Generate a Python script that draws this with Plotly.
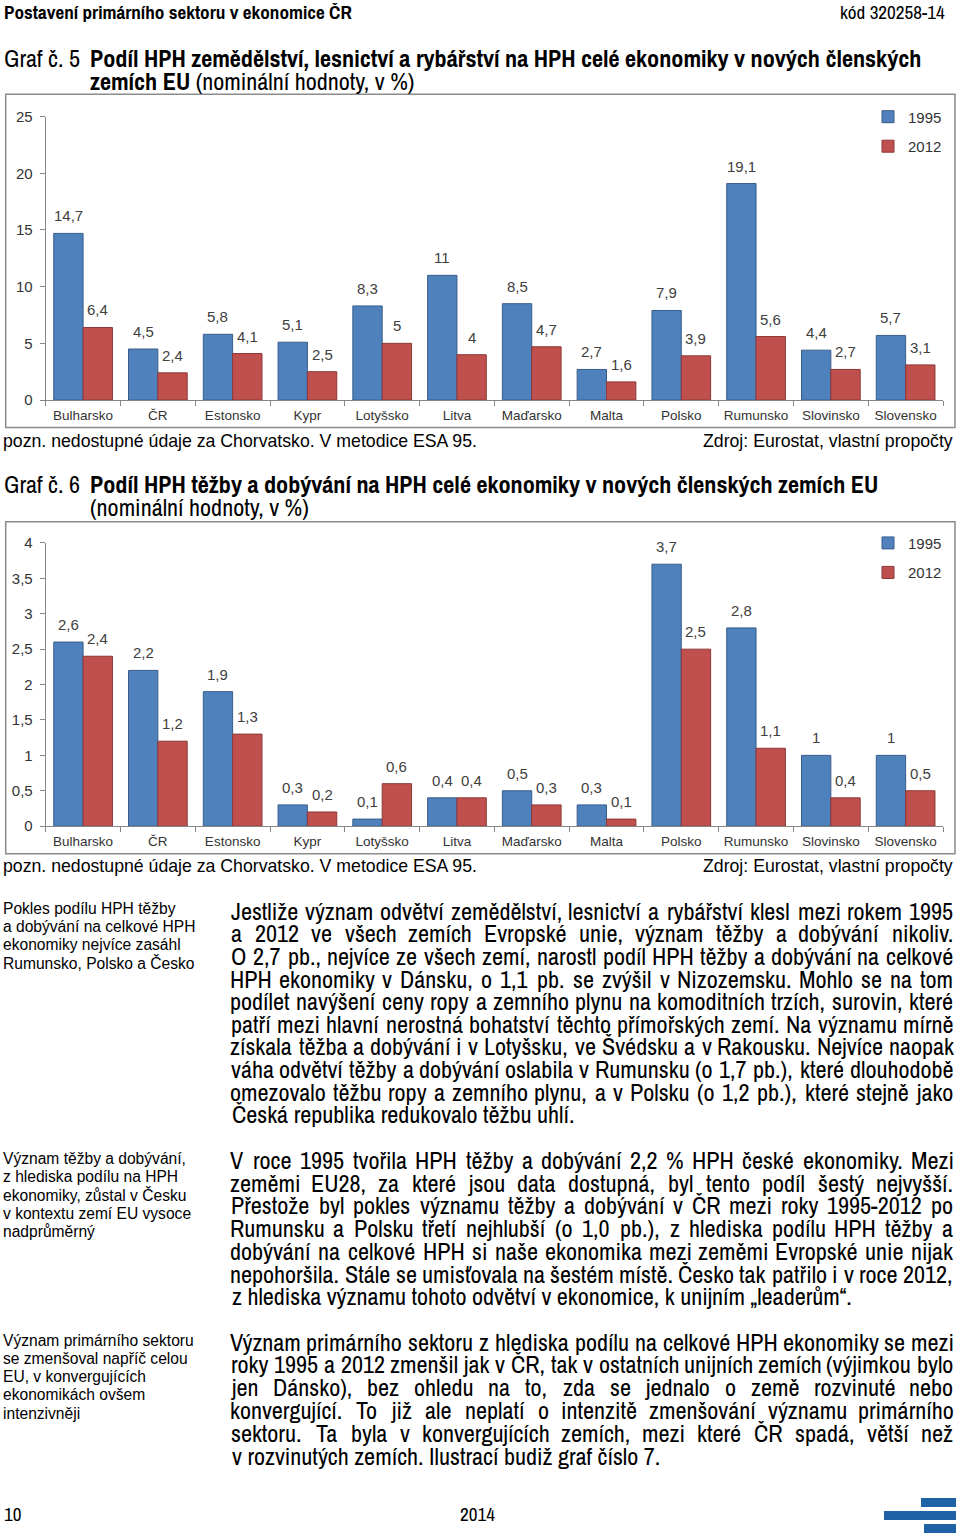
import unicodedata
import subprocess
import plotly.graph_objects as go

W, H = 960, 1540

# ---------------- data ----------------
countries = ["Bulharsko", "ČR", "Estonsko", "Kypr", "Lotyšsko", "Litva",
             "Maďarsko", "Malta", "Polsko", "Rumunsko", "Slovinsko", "Slovensko"]
years = ["1995", "2012"]
agri_1995 = [14.7, 4.5, 5.8, 5.1, 8.3, 11, 8.5, 2.7, 7.9, 19.1, 4.4, 5.7]
agri_2012 = [6.4, 2.4, 4.1, 2.5, 5, 4, 4.7, 1.6, 3.9, 5.6, 2.7, 3.1]
mining_1995 = [2.6, 2.2, 1.9, 0.3, 0.1, 0.4, 0.5, 0.3, 3.7, 2.8, 1, 1]
mining_2012 = [2.4, 1.2, 1.3, 0.2, 0.6, 0.4, 0.3, 0.1, 2.5, 1.1, 0.4, 0.5]
agri_ticks = [0, 5, 10, 15, 20, 25]
mining_ticks = [0, 0.5, 1, 1.5, 2, 2.5, 3, 3.5, 4]

# ---------------- fonts ----------------
try:
    fams = subprocess.run(["fc-list", ":", "family"], capture_output=True, text=True).stdout
except Exception:
    fams = ""

ARIAL = "Liberation Sans, Arial, sans-serif"
if "Liberation Sans Narrow" in fams:
    NARROW, KA, KB = "Liberation Sans Narrow", 0.82, 0.0
elif "Archivo Narrow" in fams:
    NARROW, KA, KB = "Archivo Narrow", 0.745, 0.034
else:
    NARROW, KA, KB = ARIAL, 1.0, 0.0
# sizes expressed as the Arial size that gives the reference width
BODY = 19.7 / 0.815 if KA != 1.0 else 19.7
HEAD = 15.6 / 0.815 if KA != 1.0 else 15.6

BLUE, BLUE_EDGE = "#4F81BD", "#385D8A"
RED, RED_EDGE = "#C0504D", "#8C3836"
AXIS = "#868686"
TXT = "#333333"

Y_OFF, H_EFF = 8.0, 1524.0


def px(x):
    return x / W


def py(y):
    return 1 - (y - Y_OFF) / H_EFF


fig = go.Figure()

# ---------------- bar charts ----------------
X0, X1 = 45.7, 943.0
charts = [
    dict(xa="x", ya="y", leg="legend", v1=agri_1995, v2=agri_2012),
    dict(xa="x2", ya="y2", leg="legend2", v1=mining_1995, v2=mining_2012),
]
for c in charts:
    for yr, vals, col, edge in [(years[0], c["v1"], BLUE, BLUE_EDGE), (years[1], c["v2"], RED, RED_EDGE)]:
        fig.add_trace(go.Bar(
            x=countries, y=vals, name=yr, xaxis=c["xa"], yaxis=c["ya"],
            legend=c["leg"], legendgroup=c["leg"] + yr,
            marker=dict(color=col, line=dict(color=edge, width=1)),
            hoverinfo="skip",
        ))

BARGAP = 0.215
cat_px = (X1 - X0) / len(countries)
off = (1 - BARGAP) / 4 * cat_px


def fmt(v):
    return f"{v:g}".replace(".", ",")


for c in charts:
    for vals, sh in [(c["v1"], -off), (c["v2"], off)]:
        for cat, v in zip(countries, vals):
            fig.add_annotation(
                x=cat, y=v, xref=c["xa"], yref=c["ya"], xshift=sh, yshift=7,
                yanchor="bottom", showarrow=False, text=fmt(v),
                font=dict(family=ARIAL, size=15, color="#404040"),
            )

axis_common = dict(showline=True, linecolor=AXIS, linewidth=1, ticks="outside", ticklen=5,
                   tickcolor=AXIS, tickwidth=1, showgrid=False, zeroline=False)
xfont = dict(family=ARIAL, size=13.5, color=TXT)
yfont = dict(family=ARIAL, size=15, color=TXT)

fig.update_layout(
    width=W, height=H, margin=dict(l=0, r=0, t=0, b=0),
    paper_bgcolor="white", plot_bgcolor="white",
    barmode="group", bargap=BARGAP, bargroupgap=0,
    separators=", ",
    showlegend=True,
    xaxis=dict(domain=[px(X0), px(X1)], anchor="y", type="category", tickson="boundaries",
               tickfont=xfont, ticklabelstandoff=3, **axis_common),
    yaxis=dict(domain=[py(399.3), py(115.7)], anchor="x", range=[0, 25], tickvals=agri_ticks,
               tickfont=yfont, ticklabelstandoff=4, **axis_common),
    xaxis2=dict(domain=[px(X0), px(X1)], anchor="y2", type="category", tickson="boundaries",
                tickfont=xfont, ticklabelstandoff=3, **axis_common),
    yaxis2=dict(domain=[py(825.7), py(542.3)], anchor="x2", range=[0, 4], tickvals=mining_ticks,
                tickfont=yfont, ticklabelstandoff=4, **axis_common),
    legend=dict(x=px(868), y=py(99.5), xanchor="left", yanchor="top", bgcolor="rgba(0,0,0,0)",
                font=dict(family=ARIAL, size=15, color=TXT), tracegroupgap=7),
    legend2=dict(x=px(868), y=py(526), xanchor="left", yanchor="top", bgcolor="rgba(0,0,0,0)",
                 font=dict(family=ARIAL, size=15, color=TXT), tracegroupgap=7),
)

# chart frames
for top, bot in [(93.3, 426.7), (521, 853.3)]:
    fig.add_shape(type="rect", xref="paper", yref="paper", x0=px(5.7), x1=px(955),
                  y0=py(bot), y1=py(top), line=dict(color="#8c8c8c", width=1.5))

# logo
for x0, y0, y1 in [(921, 1498, 1507), (884, 1511, 1520), (924, 1524, 1533)]:
    fig.add_shape(type="rect", xref="paper", yref="paper", x0=px(x0), x1=px(956),
                  y0=py(y1), y1=py(y0), line=dict(width=0), fillcolor="#1f62a6")


# ---------------- text ----------------
def text(x, y, s, size, family, anchor="left", color="black"):
    fig.add_annotation(x=px(x), y=py(y), xref="paper", yref="paper", text=s, showarrow=False,
                       xanchor=anchor, yanchor="middle", align=anchor,
                       font=dict(size=size, family=family, color=color))


HELV = {" ": 278, "!": 278, '"': 355, "#": 556, "$": 556, "%": 889, "&": 667, "'": 191,
        "(": 333, ")": 333, "*": 389, "+": 584, ",": 278, "-": 333, ".": 278, "/": 278,
        ":": 278, ";": 278, "?": 556, "„": 333, "“": 333, "”": 333, "–": 556,
        "A": 667, "B": 667, "C": 722, "D": 722, "E": 667, "F": 611, "G": 778, "H": 722, "I": 278,
        "J": 500, "K": 667, "L": 556, "M": 833, "N": 722, "O": 778, "P": 667, "Q": 778, "R": 722,
        "S": 667, "T": 611, "U": 722, "V": 667, "W": 944, "X": 667, "Y": 667, "Z": 611,
        "a": 556, "b": 556, "c": 500, "d": 556, "e": 556, "f": 278, "g": 556, "h": 556, "i": 222,
        "j": 222, "k": 500, "l": 222, "m": 833, "n": 556, "o": 556, "p": 556, "q": 556, "r": 333,
        "s": 500, "t": 278, "u": 556, "v": 500, "w": 722, "x": 500, "y": 500, "z": 500}
for d in "0123456789":
    HELV[d] = 556


def em_width(s):
    tot = 0.0
    for ch in s:
        w = HELV.get(ch)
        if w is None:
            w = HELV.get(unicodedata.normalize("NFD", ch)[0], 556)
        tot += KA * w / 1000.0 + KB
    return tot


BX0, BX1 = 231.0, 953.0


def justified(lines, y0, step):
    for i, line in enumerate(lines):
        y = y0 + i * step
        if i == len(lines) - 1:
            text(BX0 - 1.5, y, line, BODY, NARROW)
            continue
        words = line.split(" ")
        ws = [em_width(w) * BODY for w in words]
        gap = (BX1 - BX0 - sum(ws)) / (len(words) - 1)
        x = BX0
        for w, wd in zip(words, ws):
            text(x + wd / 2, y, w, BODY, NARROW, anchor="center")
            x += wd + gap


# header
text(2, 11, "<b>Postavení primárního sektoru v ekonomice ČR</b>", HEAD, NARROW)
text(947, 11, "kód 320258-14", HEAD, NARROW, anchor="right")

# chart titles
text(2, 58, "Graf č. 5", BODY, NARROW)
text(88, 58, "<b>Podíl HPH zemědělství, lesnictví a rybářství na HPH celé ekonomiky v nových členských</b>", BODY, NARROW)
text(88, 81, "<b>zemích EU</b> (nominální hodnoty, v %)", BODY, NARROW)
text(2, 484, "Graf č. 6", BODY, NARROW)
text(88, 484, "<b>Podíl HPH těžby a dobývání na HPH celé ekonomiky v nových členských zemích EU</b>", BODY, NARROW)
text(88, 507, "(nominální hodnoty, v %)", BODY, NARROW)

# chart notes
for yy in (440, 866):
    text(1, yy, "pozn. nedostupné údaje za Chorvatsko. V metodice ESA 95.", 17.7, ARIAL)
    text(955, yy, "Zdroj: Eurostat, vlastní propočty", 17.7, ARIAL, anchor="right")

# side notes
side = [
    (908, ["Pokles podílu HPH těžby", "a dobývání na celkové HPH", "ekonomiky nejvíce zasáhl",
           "Rumunsko, Polsko a Česko"]),
    (1158, ["Význam těžby a dobývání,", "z hlediska podílu na HPH", "ekonomiky, zůstal v Česku",
            "v kontextu zemí EU vysoce", "nadprůměrný"]),
    (1340, ["Význam primárního sektoru", "se zmenšoval napříč celou", "EU, v konvergujících",
            "ekonomikách ovšem", "intenzivněji"]),
]
for y0, lines in side:
    for i, l in enumerate(lines):
        text(1, y0 + i * 18.3, l, 15.6, ARIAL)

# body paragraphs
para1 = [
    "Jestliže význam odvětví zemědělství, lesnictví a rybářství klesl mezi rokem 1995",
    "a 2012 ve všech zemích Evropské unie, význam těžby a dobývání nikoliv.",
    "O 2,7 pb., nejvíce ze všech zemí, narostl podíl HPH těžby a dobývání na celkové",
    "HPH ekonomiky v Dánsku, o 1,1 pb. se zvýšil v Nizozemsku. Mohlo se na tom",
    "podílet navýšení ceny ropy a zemního plynu na komoditních trzích, surovin, které",
    "patří mezi hlavní nerostná bohatství těchto přímořských zemí. Na významu mírně",
    "získala těžba a dobývání i v Lotyšsku, ve Švédsku a v Rakousku. Nejvíce naopak",
    "váha odvětví těžby a dobývání oslabila v Rumunsku (o 1,7 pb.), které dlouhodobě",
    "omezovalo těžbu ropy a zemního plynu, a v Polsku (o 1,2 pb.), které stejně jako",
    "Česká republika redukovalo těžbu uhlí.",
]
para2 = [
    "V roce 1995 tvořila HPH těžby a dobývání 2,2 % HPH české ekonomiky. Mezi",
    "zeměmi EU28, za které jsou data dostupná, byl tento podíl šestý nejvyšší.",
    "Přestože byl pokles významu těžby a dobývání v ČR mezi roky 1995-2012 po",
    "Rumunsku a Polsku třetí nejhlubší (o 1,0 pb.), z hlediska podílu HPH těžby a",
    "dobývání na celkové HPH si naše ekonomika mezi zeměmi Evropské unie nijak",
    "nepohoršila. Stále se umisťovala na šestém místě. Česko tak patřilo i v roce 2012,",
    "z hlediska významu tohoto odvětví v ekonomice, k unijním „leaderům“.",
]
para3 = [
    "Význam primárního sektoru z hlediska podílu na celkové HPH ekonomiky se mezi",
    "roky 1995 a 2012 zmenšil jak v ČR, tak v ostatních unijních zemích (výjimkou bylo",
    "jen Dánsko), bez ohledu na to, zda se jednalo o země rozvinuté nebo",
    "konvergující. To již ale neplatí o intenzitě zmenšování významu primárního",
    "sektoru. Ta byla v konvergujících zemích, mezi které ČR spadá, větší než",
    "v rozvinutých zemích. Ilustrací budiž graf číslo 7.",
]
justified(para1, 911, 22.6)
justified(para2, 1160, 22.8)
justified(para3, 1342, 22.8)

# footer
text(2, 1514, "10", HEAD, NARROW)
text(477, 1514, "2014", HEAD, NARROW, anchor="center")

fig.write_html(
    "out.html",
    config={"displayModeBar": False},
    post_script="document.body.style.margin='0px';document.body.style.padding='0px';"
                "document.documentElement.style.overflow='hidden';",
)
